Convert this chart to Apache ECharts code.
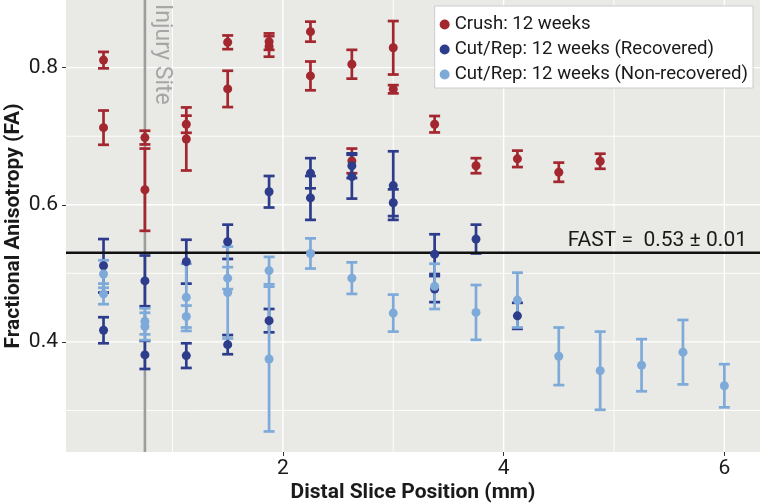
<!DOCTYPE html>
<html>
<head>
<meta charset="utf-8">
<script src="https://cdn.jsdelivr.net/npm/echarts@6/dist/echarts.min.js"></script>
<style>
  html, body { margin: 0; padding: 0; background: #ffffff; }
  #chart { width: 760px; height: 504px; }
</style>
</head>
<body>
<div id="chart"></div>
<script>
// Distal slice positions (mm) and FA values (mean and SE) per group
const crushX  = [0.375, 0.375, 0.75, 0.75, 1.125, 1.125, 1.5, 1.5, 1.875, 1.875, 2.25, 2.25, 2.625, 2.625, 3.0, 3.0, 3.375, 3.75, 4.125, 4.5, 4.875];
const crushFA = [0.811, 0.7125, 0.698, 0.622, 0.7175, 0.696, 0.837, 0.769, 0.838, 0.831, 0.8525, 0.788, 0.805, 0.664, 0.829, 0.7685, 0.7175, 0.657, 0.667, 0.6475, 0.6635];
const crushSE = [0.012, 0.025, 0.010, 0.060, 0.0125, 0.046, 0.010, 0.0265, 0.012, 0.015, 0.0146, 0.021, 0.021, 0.018, 0.039, 0.006, 0.012, 0.011, 0.012, 0.014, 0.011];

const recX  = [0.375, 0.375, 0.75, 0.75, 1.125, 1.125, 1.5, 1.5, 1.875, 1.875, 2.25, 2.25, 2.625, 2.625, 3.0, 3.0, 3.375, 3.375, 3.75, 4.125];
const recFA = [0.511, 0.417, 0.489, 0.381, 0.517, 0.380, 0.546, 0.396, 0.619, 0.431, 0.646, 0.610, 0.657, 0.641, 0.628, 0.603, 0.528, 0.477, 0.550, 0.438];
const recSE = [0.039, 0.019, 0.037, 0.0205, 0.032, 0.018, 0.025, 0.014, 0.023, 0.017, 0.022, 0.032, 0.018, 0.032, 0.050, 0.0195, 0.029, 0.019, 0.021, 0.019];

const nonX  = [0.375, 0.375, 0.75, 0.75, 1.125, 1.125, 1.5, 1.5, 1.875, 1.875, 2.25, 2.625, 3.0, 3.375, 3.75, 4.125, 4.5, 4.875, 5.25, 5.625, 6.0];
const nonFA = [0.499, 0.470, 0.430, 0.4225, 0.465, 0.437, 0.493, 0.472, 0.504, 0.375, 0.529, 0.493, 0.442, 0.481, 0.443, 0.461, 0.379, 0.358, 0.366, 0.385, 0.336];
const nonSE = [0.020, 0.015, 0.019, 0.020, 0.049, 0.016, 0.016, 0.067, 0.020, 0.1056, 0.022, 0.023, 0.027, 0.033, 0.040, 0.040, 0.042, 0.057, 0.038, 0.047, 0.0315];

const seriesNames = ['Crush: 12 weeks', 'Cut/Rep: 12 weeks (Recovered)', 'Cut/Rep: 12 weeks (Non-recovered)'];

// Axis ticks and gridlines
const xTickLabels = [2, 4, 6];
const xMinorGrid  = [1, 3, 5];
const yTickLabels = [0.4, 0.6, 0.8];
const yMinorGrid  = [0.3, 0.5, 0.7];

// Reference annotations
const fastFA = 0.53;
const fastLabel = 'FAST =  0.53 \u00b1 0.01';
const injuryX = 0.75;
const injuryLabel = 'Injury Site';

const X_MIN = 0.035, X_MAX = 6.323;
const Y_MIN = 0.2394, Y_MAX = 0.8987;

const RED = '#a3272f', DARK = '#2d3d8c', LIGHT = '#7eaad9';
const FONT = 'Roboto';

function gridSeries() {
  const data = [];
  xTickLabels.forEach(v => data.push(['x', v, 1.4]));
  xMinorGrid.forEach(v => data.push(['x', v, 0.9]));
  yTickLabels.forEach(v => data.push(['y', v, 1.4]));
  yMinorGrid.forEach(v => data.push(['y', v, 0.9]));
  return {
    type: 'custom', silent: true, z: 1,
    data: data.map(d => [d[0] === 'x' ? d[1] : X_MIN, d[0] === 'y' ? d[1] : Y_MIN, d[0] === 'x' ? 0 : 1, d[2]]),
    encode: { x: 0, y: 1 },
    renderItem(params, api) {
      const cs = params.coordSys;
      const p = api.coord([api.value(0), api.value(1)]);
      const isY = api.value(2) === 1;
      const shape = isY
        ? { x1: cs.x, y1: p[1], x2: cs.x + cs.width, y2: p[1] }
        : { x1: p[0], y1: cs.y, x2: p[0], y2: cs.y + cs.height };
      return { type: 'line', shape, style: { stroke: '#ffffff', lineWidth: api.value(3) } };
    }
  };
}

function errorBars(xs, ys, es, color, z) {
  return {
    type: 'custom', silent: true, z,
    data: xs.map((x, i) => [x, ys[i] - es[i], ys[i] + es[i]]),
    encode: { x: 0, y: [1, 2] },
    renderItem(params, api) {
      const lo = api.coord([api.value(0), api.value(1)]);
      const hi = api.coord([api.value(0), api.value(2)]);
      const hw = 5.5;
      const style = { stroke: color, lineWidth: 2.7 };
      return {
        type: 'group',
        children: [
          { type: 'line', shape: { x1: lo[0], y1: lo[1], x2: hi[0], y2: hi[1] }, style },
          { type: 'line', shape: { x1: lo[0] - hw, y1: lo[1], x2: lo[0] + hw, y2: lo[1] }, style },
          { type: 'line', shape: { x1: hi[0] - hw, y1: hi[1], x2: hi[0] + hw, y2: hi[1] }, style }
        ]
      };
    }
  };
}

function points(name, xs, ys, color, z) {
  return {
    type: 'scatter', name, z,
    symbol: 'circle', symbolSize: 9,
    itemStyle: { color, opacity: 1 },
    data: xs.map((x, i) => [x, ys[i]])
  };
}

const injurySeries = {
  type: 'custom', silent: true, z: 2,
  data: [[injuryX, Y_MAX]],
  encode: { x: 0, y: 1 },
  renderItem(params, api) {
    const cs = params.coordSys;
    const p = api.coord([api.value(0), api.value(1)]);
    return {
      type: 'group',
      children: [
        { type: 'line', shape: { x1: p[0], y1: cs.y, x2: p[0], y2: cs.y + cs.height },
          style: { stroke: '#9d9d9d', lineWidth: 2.6 } },
        { type: 'text', x: p[0] + 5.5, y: cs.y + 4, rotation: -Math.PI / 2,
          style: { text: injuryLabel, fill: '#a6a6a6', font: '23px ' + FONT,
                   align: 'left', verticalAlign: 'bottom' } }
      ]
    };
  }
};

const fastSeries = {
  type: 'custom', silent: true, z: 6,
  data: [[X_MAX, fastFA]],
  encode: { x: 0, y: 1 },
  renderItem(params, api) {
    const cs = params.coordSys;
    const p = api.coord([api.value(0), api.value(1)]);
    return {
      type: 'group',
      children: [
        { type: 'line', shape: { x1: cs.x, y1: p[1], x2: cs.x + cs.width, y2: p[1] },
          style: { stroke: '#111111', lineWidth: 2.7 } },
        { type: 'text', x: p[0] - 13, y: p[1] - 1.5,
          style: { text: fastLabel, fill: '#1a1a1a', font: '21px ' + FONT,
                   align: 'right', verticalAlign: 'bottom' } }
      ]
    };
  }
};

const chart = echarts.init(document.getElementById('chart'), null, { renderer: 'canvas' });

chart.setOption({
  animation: false,
  backgroundColor: '#ffffff',
  textStyle: { fontFamily: FONT },
  grid: {
    left: 66, right: 0, top: 0, bottom: 52,
    outerBoundsMode: 'none',
    containLabel: false,
    show: true, backgroundColor: '#e9e9e5', borderWidth: 0
  },
  legend: {
    data: seriesNames,
    orient: 'vertical',
    right: 7, top: 6,
    backgroundColor: '#ffffff',
    borderColor: '#cccccc', borderWidth: 1,
    padding: [9, 5, 4, 5],
    itemGap: 6,
    itemWidth: 10, itemHeight: 10,
    icon: 'circle',
    textStyle: { fontFamily: FONT, fontSize: 18.6, color: '#1a1a1a', padding: [0, 0, 0, 0] }
  },
  xAxis: {
    type: 'value', min: X_MIN, max: X_MAX,
    name: 'Distal Slice Position (mm)',
    nameLocation: 'middle', nameGap: 30, nameMoveOverlap: false,
    nameTextStyle: { fontFamily: FONT, fontSize: 21, fontWeight: 'bold', color: '#1a1a1a' },
    axisLine: { show: false },
    axisTick: { show: true, customValues: xTickLabels, length: 4, lineStyle: { color: '#333333', width: 1 } },
    axisLabel: { customValues: xTickLabels, margin: 6, fontSize: 21, color: '#1a1a1a', fontFamily: FONT },
    splitLine: { show: false }
  },
  yAxis: {
    type: 'value', min: Y_MIN, max: Y_MAX,
    name: 'Fractional Anisotropy (FA)',
    nameLocation: 'middle', nameGap: 42, nameRotate: 90, nameMoveOverlap: false,
    nameTextStyle: { fontFamily: FONT, fontSize: 21, fontWeight: 'bold', color: '#1a1a1a' },
    axisLine: { show: false },
    axisTick: { show: true, customValues: yTickLabels, length: 4, lineStyle: { color: '#333333', width: 1 } },
    axisLabel: { customValues: yTickLabels, margin: 8, fontSize: 21, color: '#1a1a1a', fontFamily: FONT,
                 formatter: v => v.toFixed(1) },
    splitLine: { show: false }
  },
  series: [
    gridSeries(),
    injurySeries,
    errorBars(crushX, crushFA, crushSE, RED, 3),
    errorBars(recX, recFA, recSE, DARK, 4),
    errorBars(nonX, nonFA, nonSE, LIGHT, 5),
    fastSeries,
    points(seriesNames[0], crushX, crushFA, RED, 7),
    points(seriesNames[1], recX, recFA, DARK, 8),
    points(seriesNames[2], nonX, nonFA, LIGHT, 9)
  ]
});
</script>
</body>
</html>
